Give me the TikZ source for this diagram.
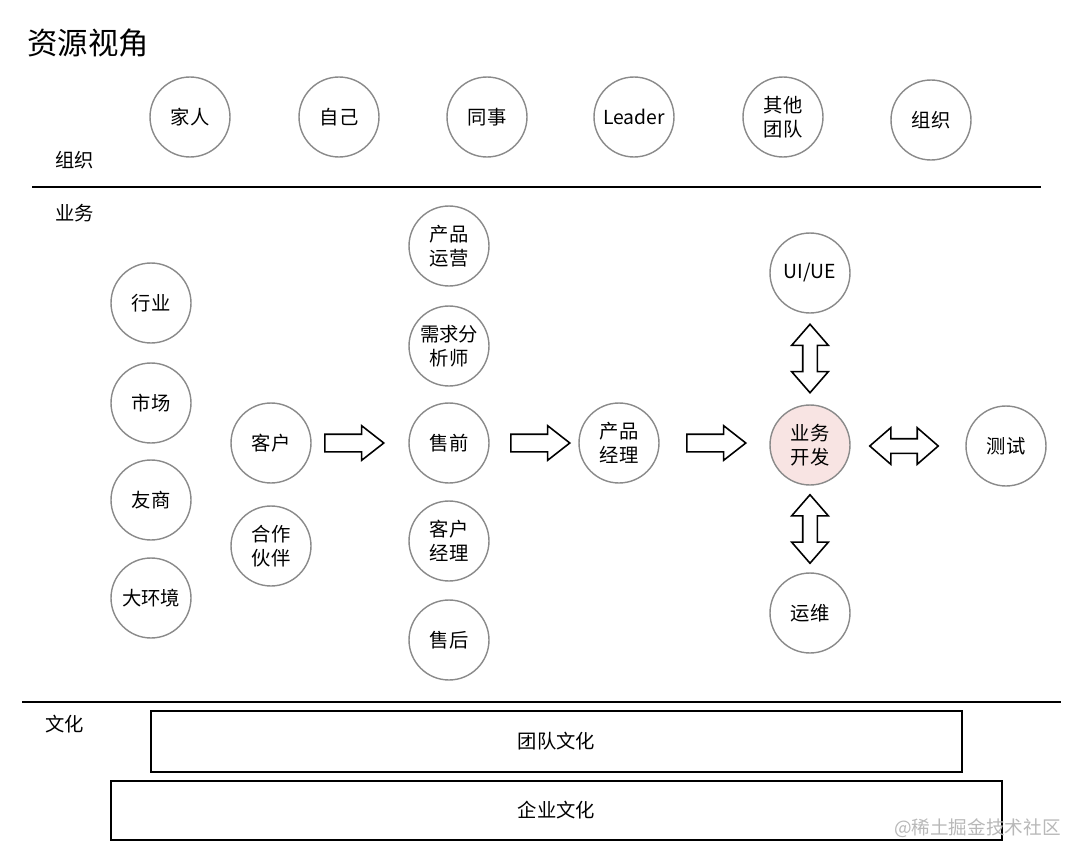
\documentclass[tikz,border=0pt]{standalone}
\usepackage{fontspec}
\setmainfont{Noto Sans CJK SC}
\usetikzlibrary{shapes.arrows, positioning, calc}
\definecolor{ringgrey}{HTML}{8A8A8A}
\definecolor{devpink}{HTML}{F8E4E3}
\definecolor{markgrey}{HTML}{B8B8B8}
\tikzset{
  res/.style={circle, draw=ringgrey, line width=0.8pt, fill=white, minimum size=1.6cm,
    inner sep=0pt, align=center, font=\fontsize{11}{13.6}\selectfont},
  resHi/.style={res, fill=devpink},
  flow/.style={single arrow, draw, line width=0.9pt, fill=white, inner xsep=0pt, inner ysep=0.16cm,
    single arrow head extend=0.17cm, single arrow tip angle=76, minimum height=1.18cm, anchor=tail},
  flowd/.style={double arrow, draw, line width=0.9pt, fill=white, inner xsep=0pt, inner ysep=0.13cm,
    double arrow head extend=0.22cm, double arrow tip angle=82, minimum height=1.37cm},
  band/.style={rectangle, draw, line width=1pt, align=center, font=\fontsize{11}{13}\selectfont},
  lane/.style={anchor=west, inner sep=0pt, font=\fontsize{11}{13}\selectfont},
  sepline/.style={line width=1.2pt},
}
\begin{document}
\begin{tikzpicture}[x=0.02cm, y=-0.02cm]
\useasboundingbox (0,0) rectangle (1083,862);
\node[anchor=west, inner sep=0pt, font=\fontsize{17.3}{20}\selectfont] (title) at (27,43) {资源视角};

% 组织
\node[lane] (lorg) at (55,160) {组织};
\node[res] (family) at (190,117) {家人};
\node[res] (self) at (339,117) {自己};
\node[res] (peer) at (487,117) {同事};
\node[res] (leader) at (634,117) {Leader};
\node[res] (others) at (783,117) {其他\\团队};
\node[res] (org) at (931,120) {组织};
\draw[sepline] (32,187) -- (1041,187);

% 业务
\node[lane] (lbiz) at (55,213) {业务};
\node[res] (industry) at (151,303) {行业};
\node[res] (market) at (151,403) {市场};
\node[res] (rival) at (151,500) {友商};
\node[res] (env) at (151,598) {大环境};
\node[res] (client) at (271,443) {客户};
\node[res] (partner) at (271,546) {合作\\伙伴};
\node[res] (ops) at (449,246) {产品\\运营};
\node[res] (analyst) at (449,346) {需求分\\析师};
\node[res] (presale) at (449,443) {售前};
\node[res] (account) at (449,541) {客户\\经理};
\node[res] (aftersale) at (449,640) {售后};
\node[res] (pm) at (619,443) {产品\\经理};
\node[resHi] (dev) at (810,445) {业务\\开发};
\node[res] (uiue) at (810,273) {UI/UE};
\node[res] (qa) at (1006,446) {测试};
\node[res] (devops) at (810,613) {运维};

\node[flow] (f1) at (324,443) {};
\node[flow] (f2) at (510,443) {};
\node[flow] (f3) at (686,443) {};
\node[flowd] (d1) at (904,446) {};
\node[flowd, rotate=90] (d2) at (810,358.5) {};
\node[flowd, rotate=90] (d3) at (810,529) {};
\draw[sepline] (22,702) -- (1061,702);

% 文化
\node[lane] (lcult) at (45,724) {文化};
\node[band, minimum width=16.22cm, minimum height=1.22cm] (team) at (556.5,741.5) {团队文化};
\node[band, minimum width=17.82cm, minimum height=1.18cm] (corp) at (556.5,810.5) {企业文化};
\node[anchor=east, inner sep=0pt, text=markgrey, font=\fontsize{10.6}{12}\selectfont] (mark) at (1061,828) {@稀土掘金技术社区};
\end{tikzpicture}
\end{document}
